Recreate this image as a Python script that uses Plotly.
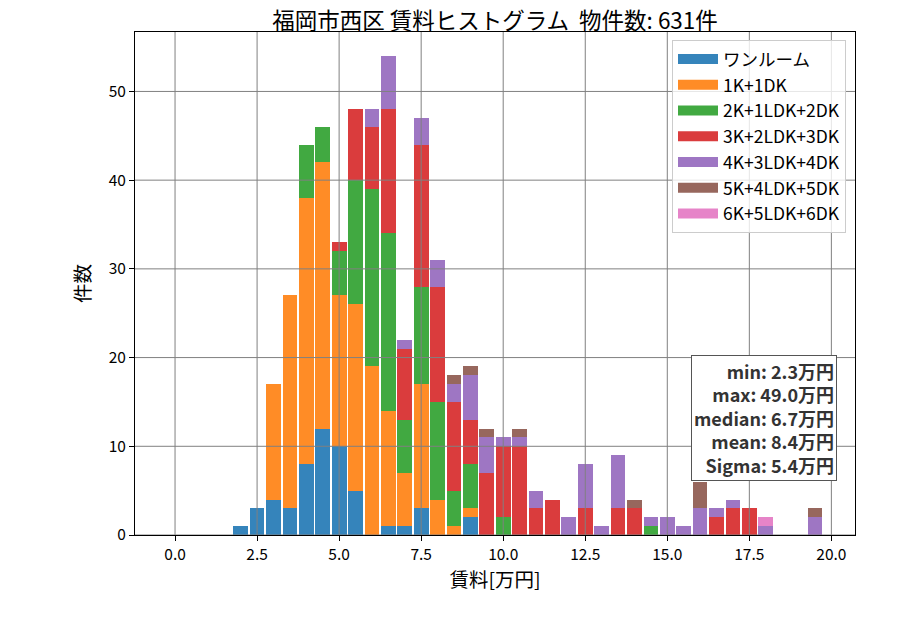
import plotly.graph_objects as go

# bin start of each 0.5万円 bin (bars drawn left-aligned at bin start)
rent_bins = [0.0, 0.5, 1.0, 1.5, 2.0, 2.5, 3.0, 3.5, 4.0, 4.5,
             5.0, 5.5, 6.0, 6.5, 7.0, 7.5, 8.0, 8.5, 9.0, 9.5,
             10.0, 10.5, 11.0, 11.5, 12.0, 12.5, 13.0, 13.5, 14.0, 14.5,
             15.0, 15.5, 16.0, 16.5, 17.0, 17.5, 18.0, 18.5, 19.0, 19.5]

one_room = [0, 0, 0, 0, 1, 3, 4, 3, 8, 12,
            10, 5, 0, 1, 1, 3, 0, 0, 2, 0,
            0, 0, 0, 0, 0, 0, 0, 0, 0, 0,
            0, 0, 0, 0, 0, 0, 0, 0, 0, 0]
k1_dk1 = [0, 0, 0, 0, 0, 0, 13, 24, 30, 30,
          17, 21, 19, 13, 6, 14, 4, 1, 1, 0,
          0, 0, 0, 0, 0, 0, 0, 0, 0, 0,
          0, 0, 0, 0, 0, 0, 0, 0, 0, 0]
k2_ldk1_dk2 = [0, 0, 0, 0, 0, 0, 0, 0, 6, 4,
               5, 14, 20, 20, 6, 11, 11, 4, 5, 0,
               2, 0, 0, 0, 0, 0, 0, 0, 0, 1,
               0, 0, 0, 0, 0, 0, 0, 0, 0, 0]
k3_ldk2_dk3 = [0, 0, 0, 0, 0, 0, 0, 0, 0, 0,
               1, 8, 7, 14, 8, 16, 13, 10, 5, 7,
               8, 10, 3, 4, 0, 3, 0, 3, 3, 0,
               0, 0, 0, 2, 3, 3, 0, 0, 0, 0]
k4_ldk3_dk4 = [0, 0, 0, 0, 0, 0, 0, 0, 0, 0,
               0, 0, 2, 6, 1, 3, 3, 2, 5, 4,
               1, 1, 2, 0, 2, 5, 1, 6, 0, 1,
               2, 1, 3, 1, 1, 0, 1, 0, 0, 2]
k5_ldk4_dk5 = [0, 0, 0, 0, 0, 0, 0, 0, 0, 0,
               0, 0, 0, 0, 0, 0, 0, 1, 1, 1,
               0, 1, 0, 0, 0, 0, 0, 0, 1, 0,
               0, 0, 3, 0, 0, 0, 0, 0, 0, 1]
k6_ldk5_dk6 = [0, 0, 0, 0, 0, 0, 0, 0, 0, 0,
               0, 0, 0, 0, 0, 0, 0, 0, 0, 0,
               0, 0, 0, 0, 0, 0, 0, 0, 0, 0,
               0, 0, 0, 0, 0, 0, 1, 0, 0, 0]

series_names = ['ワンルーム', '1K+1DK', '2K+1LDK+2DK', '3K+2LDK+3DK',
                '4K+3LDK+4DK', '5K+4LDK+5DK', '6K+5LDK+6DK']
series_counts = [one_room, k1_dk1, k2_ldk1_dk2, k3_ldk2_dk3,
                 k4_ldk3_dk4, k5_ldk4_dk5, k6_ldk5_dk6]
colors = ['#1f77b4', '#ff7f0e', '#2ca02c', '#d62728',
          '#9467bd', '#8c564b', '#e377c2']

x_ticks = [0.0, 2.5, 5.0, 7.5, 10.0, 12.5, 15.0, 17.5, 20.0]
y_ticks = [0, 10, 20, 30, 40, 50]

stats_lines = ['min: 2.3万円', 'max: 49.0万円', 'median: 6.7万円',
               'mean: 8.4万円', 'Sigma: 5.4万円']

FONT = 'Noto Sans CJK JP'

fig = go.Figure()
for name, counts, color in zip(series_names, series_counts, colors):
    fig.add_trace(go.Bar(
        x=rent_bins, y=counts, width=0.45, name=name,
        marker=dict(color=color, opacity=0.9, line=dict(width=0)),
        legendgroup=name, showlegend=False,
    ))
    # wide rectangle legend swatch, like matplotlib
    fig.add_trace(go.Scatter(
        x=[None], y=[None], mode='lines', name=name, legendgroup=name,
        line=dict(color=color, width=11), opacity=0.9,
    ))

# grid drawn over the bars
for v in x_ticks:
    fig.add_vline(x=v, line=dict(color='#808080', width=1), layer='above')
for v in y_ticks:
    fig.add_hline(y=v, line=dict(color='#808080', width=1), layer='above')

fig.add_annotation(
    xref='paper', yref='paper', x=0.975, y=0.107,
    xanchor='right', yanchor='bottom', align='right',
    text='<br>'.join('<b>%s</b>' % s for s in stats_lines),
    font=dict(family=FONT, size=18, color='#333333'),
    showarrow=False, bgcolor='white', bordercolor='#555555',
    borderwidth=1, borderpad=2,
)

fig.update_layout(
    width=900, height=630,
    barmode='stack', bargap=0,
    paper_bgcolor='white', plot_bgcolor='white',
    margin=dict(l=127, r=53, t=24, b=103),
    font=dict(family=FONT, size=15.5, color='black'),
    title=dict(text='福岡市西区 賃料ヒストグラム  物件数: 631件',
               x=0.5, xref='paper', xanchor='center',
               y=1, yref='paper', yanchor='bottom', pad=dict(b=3),
               font=dict(size=22.5)),
    legend=dict(x=0.9875, y=0.984, xanchor='right', yanchor='top',
                bgcolor='rgba(255,255,255,0.8)', bordercolor='#cccccc',
                borderwidth=1, font=dict(size=17.5), itemwidth=40,
                tracegroupgap=0),
    xaxis=dict(range=[-1.22, 20.72], tickvals=x_ticks,
               ticktext=['%.1f' % v for v in x_ticks],
               showgrid=False, zeroline=False, showline=True,
               linecolor='black', linewidth=1, mirror=True,
               ticks='outside', ticklen=5, tickcolor='black',
               title=dict(text='賃料[万円]', font=dict(size=19.5), standoff=8)),
    yaxis=dict(range=[0, 56.7], tickvals=y_ticks,
               showgrid=False, zeroline=False, showline=True,
               linecolor='black', linewidth=1, mirror=True,
               ticks='outside', ticklen=5, tickcolor='black',
               title=dict(text='件数', font=dict(size=19.5), standoff=12)),
)

fig.write_html('out.html')
